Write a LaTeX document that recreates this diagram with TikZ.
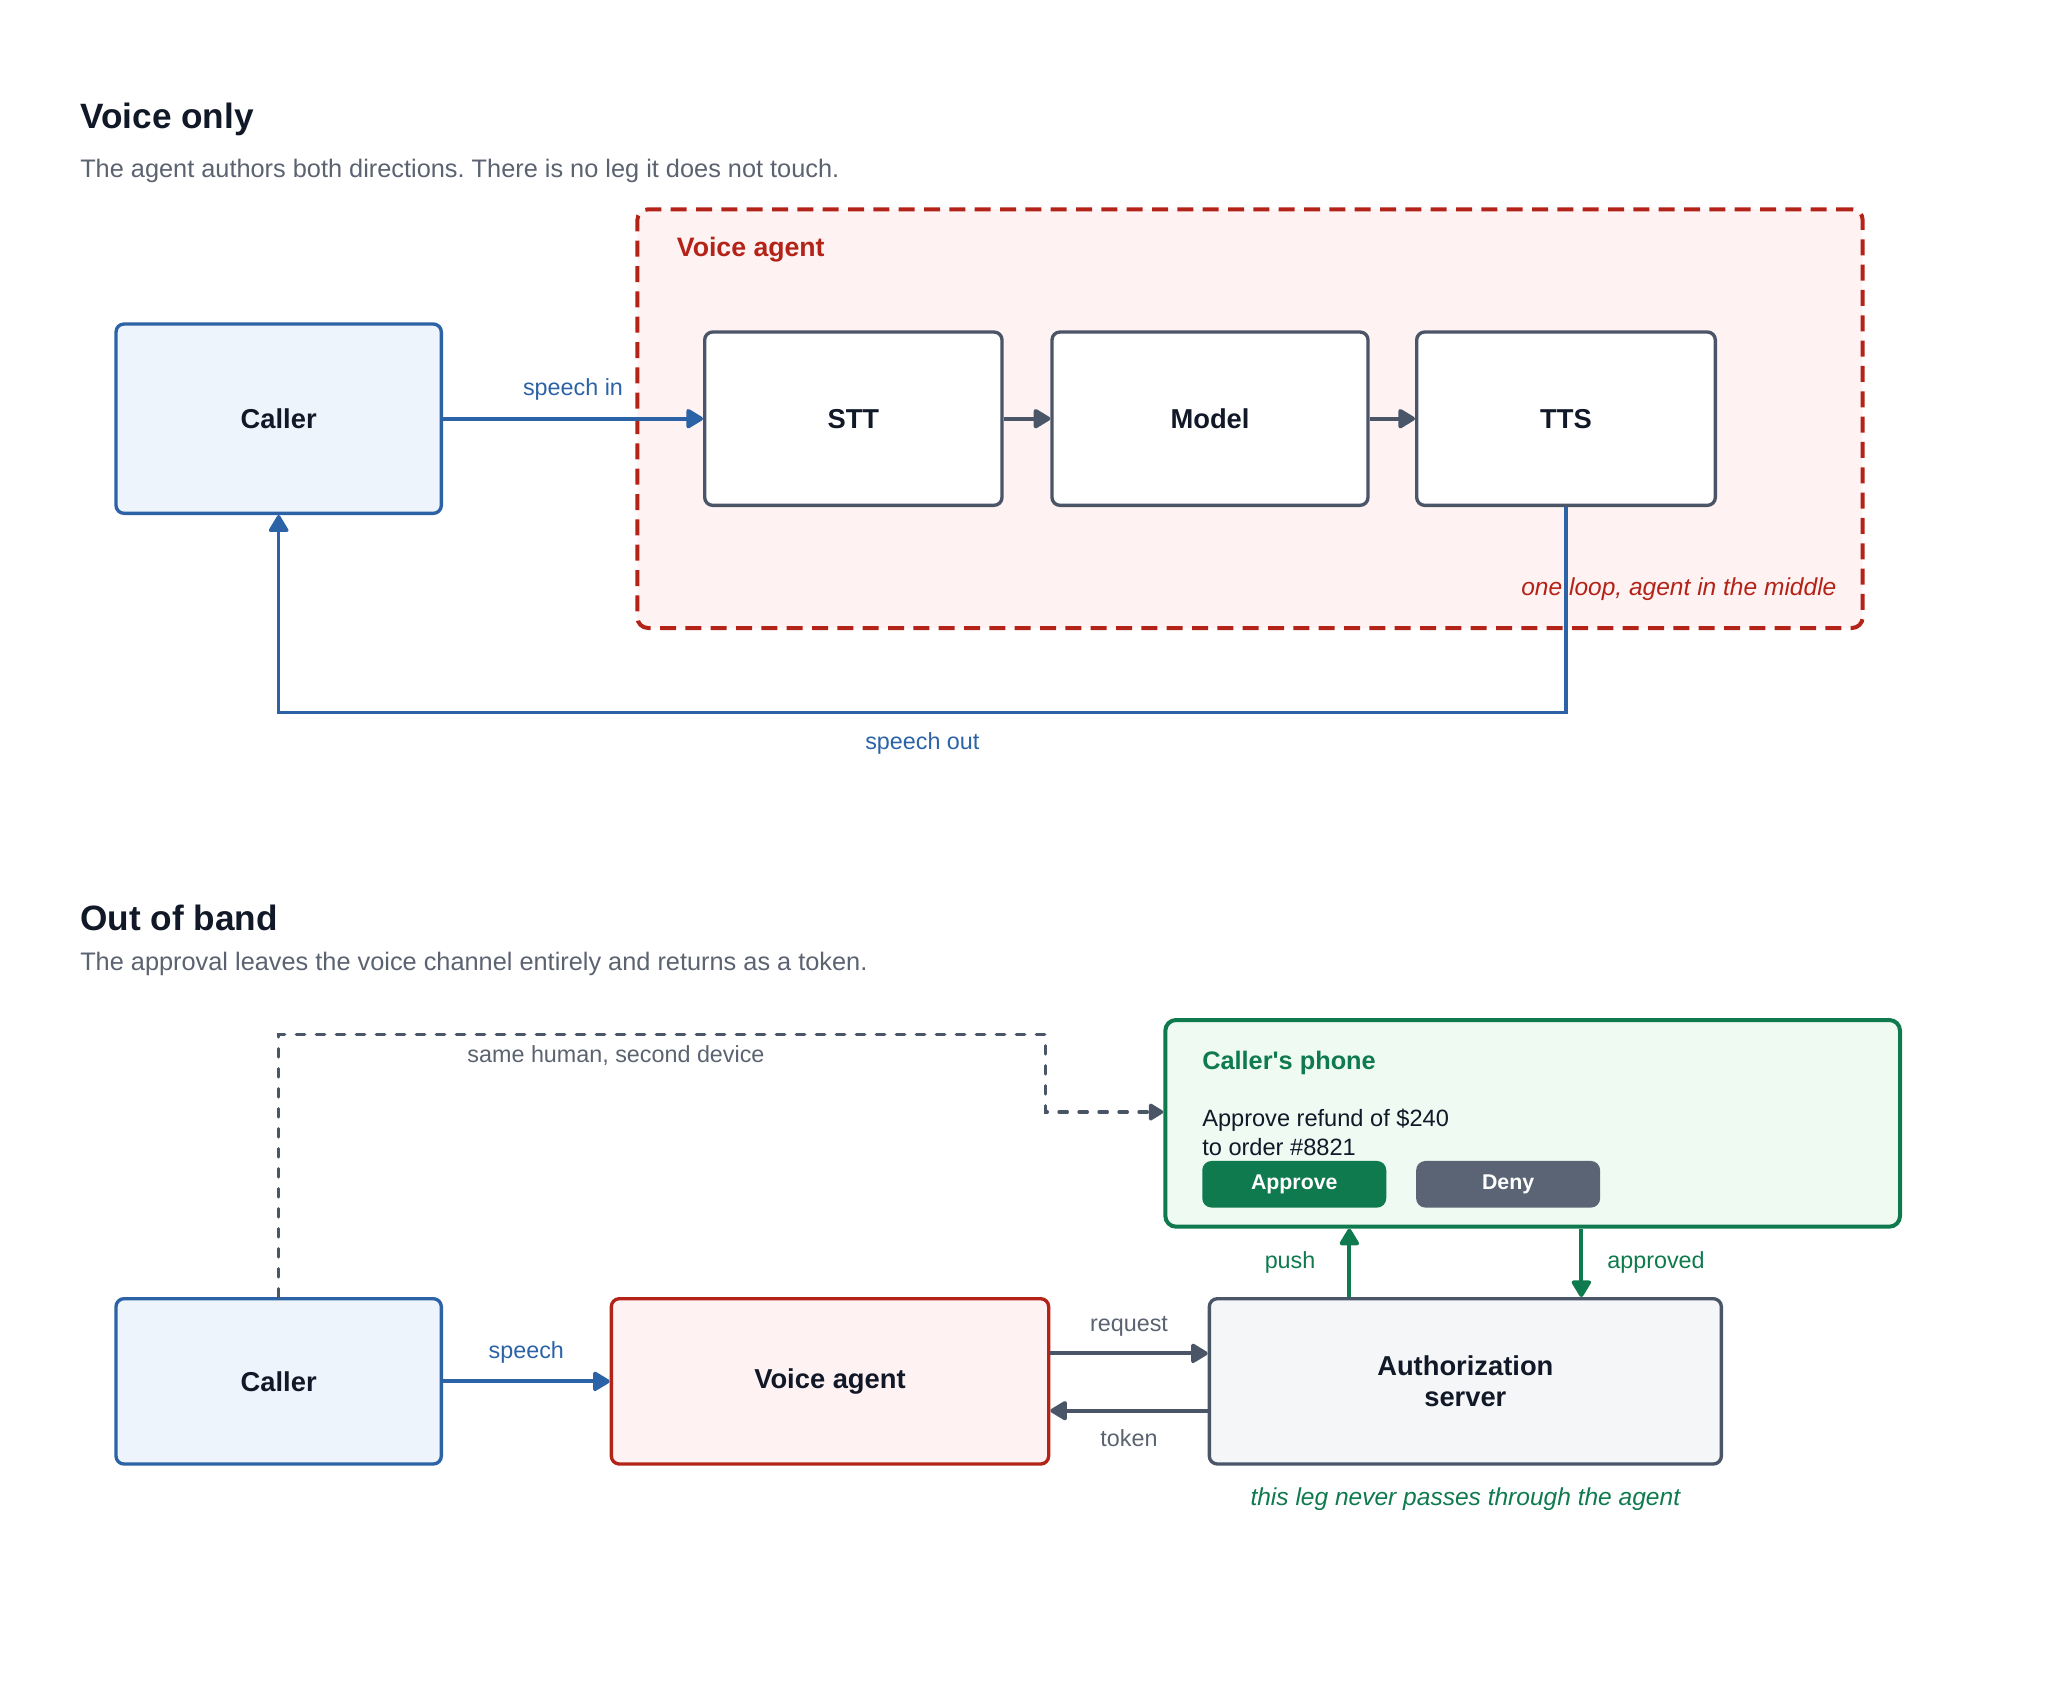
\documentclass[tikz,border=0pt]{standalone}
\usepackage{fontspec}
\setmainfont{Liberation Sans}
\usetikzlibrary{arrows.meta, positioning}

\definecolor{callerblue}{HTML}{2B63A6}
\definecolor{callerfill}{HTML}{EEF4FB}
\definecolor{agentred}{HTML}{B42318}
\definecolor{agentfill}{HTML}{FEF2F2}
\definecolor{boxgray}{HTML}{4A5568}
\definecolor{serverfill}{HTML}{F5F6F8}
\definecolor{phonegreen}{HTML}{0E7A4E}
\definecolor{phonefill}{HTML}{EFFAF3}
\definecolor{denygray}{HTML}{5B6475}
\definecolor{inkdark}{HTML}{111827}
\definecolor{inkgray}{HTML}{5B6270}

\tikzset{
    box/.style={draw, rounded corners=6pt, line width=2.5pt, align=center, text=inkdark,
        font=\fontsize{20.5}{23}\selectfont\bfseries},
    callerbox/.style={box, draw=callerblue, fill=callerfill, minimum width=244pt},
    stagebox/.style={box, draw=boxgray, fill=white, minimum height=130pt},
    lbl/.style={font=\fontsize{17.5}{20}\selectfont, inner sep=4pt},
    note/.style={font=\fontsize{18.4}{22}\selectfont\itshape, inner sep=0pt},
    heading/.style={anchor=base west, inner sep=0pt, text=inkdark, font=\fontsize{26.4}{30}\selectfont\bfseries},
    subheading/.style={anchor=base west, inner sep=0pt, text=inkgray, font=\fontsize{19}{22}\selectfont},
    flow/.style={-{Triangle[length=14pt, width=16pt, round]}, line width=3pt},
    btn/.style={rounded corners=7pt, minimum width=138pt, minimum height=35pt, inner sep=0pt,
        text=white, font=\fontsize{16}{18}\selectfont\bfseries}
}

\begin{document}
\frenchspacing
\begin{tikzpicture}[x=1pt, y=-1pt]
    \useasboundingbox (0,0) rectangle (1545,1275);

    % voice only
    \node[heading] (title1) at (60,96) {Voice only};
    \node[subheading] (sub1) at (60,133) {The agent authors both directions. There is no leg it does not touch.};

    \node[draw=agentred, fill=agentfill, line width=3pt, dash pattern=on 12pt off 7pt, rounded corners=8pt,
        minimum width=919pt, minimum height=314pt] (region) at (937.5,314) {};
    \node[anchor=west, inner sep=0pt, text=agentred, font=\fontsize{20}{24}\selectfont\bfseries]
        (regiontitle) at ([shift={(31pt,-32pt)}]region.north west) {Voice agent};

    \node[callerbox, minimum height=142pt] (caller) at (209,314) {Caller};
    \node[stagebox, minimum width=223pt, right=195pt of caller] (stt) {STT};
    \node[stagebox, minimum width=237pt, right=35pt of stt] (model) {Model};
    \node[stagebox, minimum width=224pt, right=34pt of model] (tts) {TTS};

    \draw[flow, callerblue] (caller) -- node[lbl, above=8pt, text=callerblue] {speech in} (stt);
    \draw[flow, boxgray] (stt) -- (model);
    \draw[flow, boxgray] (model) -- (tts);
    \draw[flow, callerblue, line width=2.5pt] (tts.south) -- ++(0,154)
        -| node[lbl, pos=0.25, below=10pt, text=callerblue] {speech out} (caller.south);

    \node[note, anchor=east, text=agentred] (loopnote) at ([shift={(-21pt,31pt)}]region.south east)
        {one loop, agent in the middle};

    % out of band
    \node[heading] (title2) at (60,698) {Out of band};
    \node[subheading] (sub2) at (60,728) {The approval leaves the voice channel entirely and returns as a token.};

    \node[callerbox, minimum height=124pt] (caller2) at (209,1036) {Caller};
    \node[box, draw=agentred, fill=agentfill, minimum width=328pt, minimum height=124pt,
        right=125pt of caller2] (agent) {Voice agent};
    \node[box, draw=boxgray, fill=serverfill, minimum width=384pt, minimum height=124pt,
        right=118pt of agent] (server) {Authorization\\server};

    \node[draw=phonegreen, fill=phonefill, line width=3pt, rounded corners=8pt,
        minimum width=551pt, minimum height=155pt] (phone) at (1149.5,842.5) {};
    \node[anchor=west, inner sep=0pt, text=phonegreen, font=\fontsize{19}{23}\selectfont\bfseries]
        (phonetitle) at ([shift={(29pt,-34pt)}]phone.north west) {Caller\textquotesingle s phone};
    \node[anchor=west, inner sep=0pt, align=left, text=inkdark, font=\fontsize{17.7}{22}\selectfont]
        (prompt) at ([shift={(29pt,-86pt)}]phone.north west) {Approve refund of \$240\\to order \#8821};
    \node[btn, fill=phonegreen, anchor=north west] (approve) at ([shift={(29pt,-107pt)}]phone.north west) {Approve};
    \node[btn, fill=denygray, right=22pt of approve] (deny) {Deny};

    \draw[flow, callerblue] (caller2) -- node[lbl, above=8pt, text=callerblue] {speech} (agent);
    \draw[flow, boxgray] ([yshift=21pt]agent.east) -- node[lbl, above=7pt, text=inkgray] {request}
        ([yshift=21pt]server.west);
    \draw[flow, boxgray] ([yshift=-22pt]server.west) -- node[lbl, below=9pt, text=inkgray] {token}
        ([yshift=-22pt]agent.east);
    \draw[flow, phonegreen] ([xshift=-87pt]server.north) -- node[lbl, left=20pt, text=phonegreen] {push}
        ([xshift=-87pt]server.north |- phone.south);
    \draw[flow, phonegreen] ([xshift=87pt]server.north |- phone.south) -- node[lbl, right=14pt, text=phonegreen] {approved}
        ([xshift=87pt]server.north);

    \coordinate (bend) at (784,776);
    \draw[-{Triangle[length=12pt, width=14pt, round]}, boxgray, line width=2.5pt, line cap=round,
        dash pattern=on 6.25pt off 8.75pt]
        (caller2.north) |- node[lbl, pos=0.72, below=3pt, text=inkgray] {same human, second device} (bend)
        |- ([yshift=8.5pt]phone.west);

    \node[note, below=25pt of server.south, anchor=center, text=phonegreen] (legnote) {this leg never passes through the agent};
\end{tikzpicture}
\end{document}
